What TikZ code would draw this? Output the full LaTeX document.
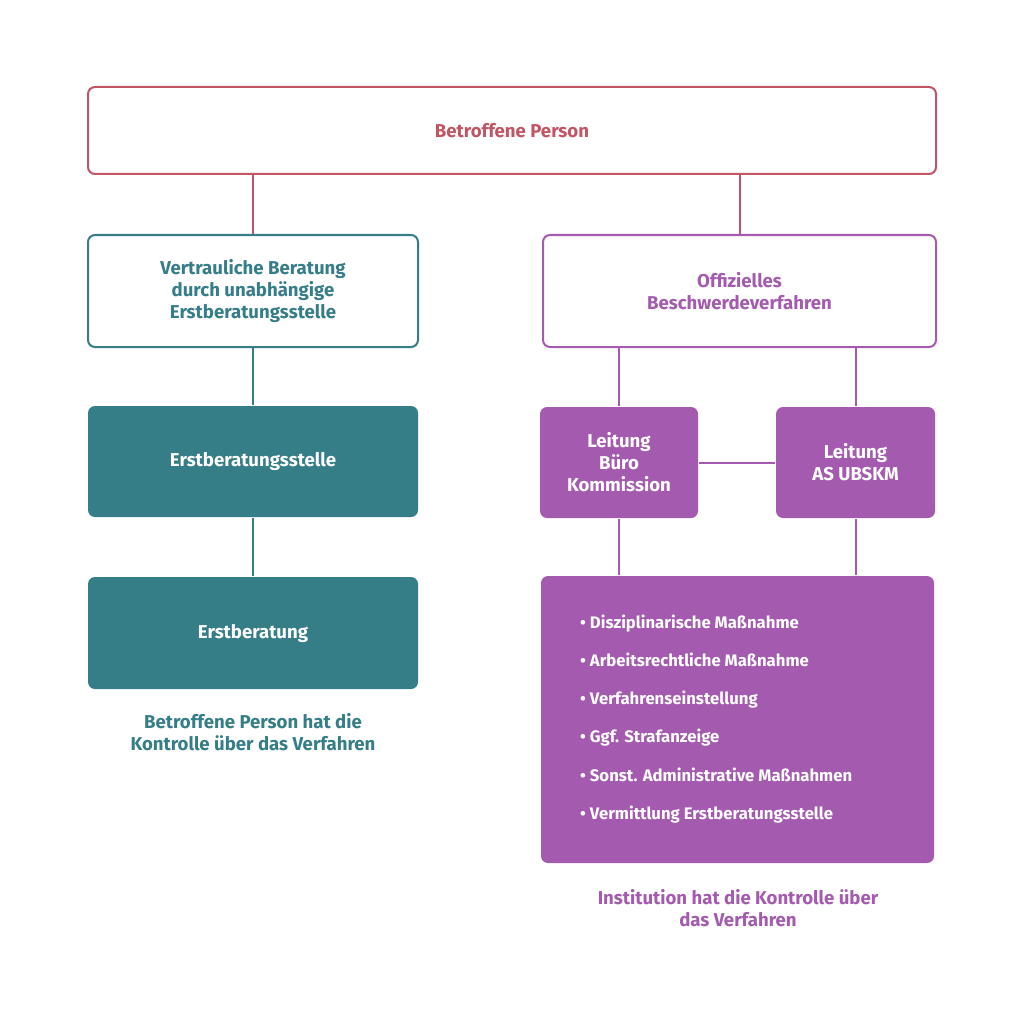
\documentclass[tikz,border=0pt]{standalone}
\usepackage{fontspec}
\setmainfont{Fira Sans}
\definecolor{cred}{HTML}{C25563}
\definecolor{cteal}{HTML}{357D87}
\definecolor{cpurp}{HTML}{A35AAF}
\begin{document}
\begin{tikzpicture}[x=1pt,y=-1pt,
  base/.style={rectangle,rounded corners=7pt,line width=2pt,inner sep=0pt,align=center,
    font=\fontsize{18.6}{22}\selectfont\bfseries},
  outred/.style={base,draw=cred,fill=white,text=cred},
  outteal/.style={base,draw=cteal,fill=white,text=cteal},
  outpurp/.style={base,draw=cpurp,fill=white,text=cpurp},
  fillteal/.style={base,fill=cteal,text=white},
  fillpurp/.style={base,fill=cpurp,text=white},
  bullet/.style={anchor=base west,inner sep=0pt,text=white,font=\fontsize{16.7}{20}\selectfont\bfseries},
  caption/.style={align=center,inner sep=0pt,font=\fontsize{18.6}{22}\selectfont\bfseries},
  lred/.style={draw=cred,line width=2pt},
  lteal/.style={draw=cteal,line width=2pt},
  lpurp/.style={draw=cpurp,line width=2pt}]
\useasboundingbox (0,0) rectangle (1024,1024);
% nodes
\node[outred,minimum width=848pt,minimum height=87pt] (top) at (512,130.5) {Betroffene Person};
\node[outteal,minimum width=330pt,minimum height=112pt] (vb) at (253,291) {Vertrauliche Beratung\\durch unabhängige\\Erstberatungsstelle};
\node[outpurp,minimum width=393pt,minimum height=112pt] (ob) at (739.5,291) {Offizielles\\Beschwerdeverfahren};
\node[fillteal,minimum width=330pt,minimum height=111pt] (ebs) at (253,461.5) {Erstberatungsstelle};
\node[fillteal,minimum width=330pt,minimum height=112pt] (eb) at (253,633) {Erstberatung};
\node[fillpurp,minimum width=158pt,minimum height=111pt] (lbk) at (619,462.5) {Leitung\\Büro\\Kommission};
\node[fillpurp,minimum width=159pt,minimum height=111pt] (las) at (855.5,462.5) {Leitung\\AS UBSKM};
\node[fillpurp,minimum width=393pt,minimum height=287pt] (res) at (737.5,719.5) {};
\node[caption,text=cteal] (capl) at (253,732.5) {Betroffene Person hat die\\Kontrolle über das Verfahren};
\node[caption,text=cpurp] (capr) at (738,908) {Institution hat die Kontrolle über\\das Verfahren};
% bullets
\node[bullet] (b1) at (580,628) {• Disziplinarische Maßnahme};
\node[bullet] (b2) at (580,666.3) {• Arbeitsrechtliche Maßnahme};
\node[bullet] (b3) at (580,704.6) {• Verfahrenseinstellung};
\node[bullet] (b4) at (580,742.9) {• Ggf. Strafanzeige};
\node[bullet] (b5) at (580,781.2) {• Sonst. Administrative Maßnahmen};
\node[bullet] (b6) at (580,819.5) {• Vermittlung Erstberatungsstelle};
% connectors
\draw[lred] (vb.north) -- (vb.north |- top.south);
\draw[lred] (ob.north) -- (ob.north |- top.south);
\draw[lteal] (vb.south) -- (ebs.north);
\draw[lteal] (ebs.south) -- (eb.north);
\draw[lpurp] (lbk.north) -- (lbk.north |- ob.south);
\draw[lpurp] (las.north) -- (las.north |- ob.south);
\draw[lpurp] (lbk.east) -- (las.west);
\draw[lpurp] (lbk.south) -- (lbk.south |- res.north);
\draw[lpurp] (las.south) -- (las.south |- res.north);
\end{tikzpicture}
\end{document}
